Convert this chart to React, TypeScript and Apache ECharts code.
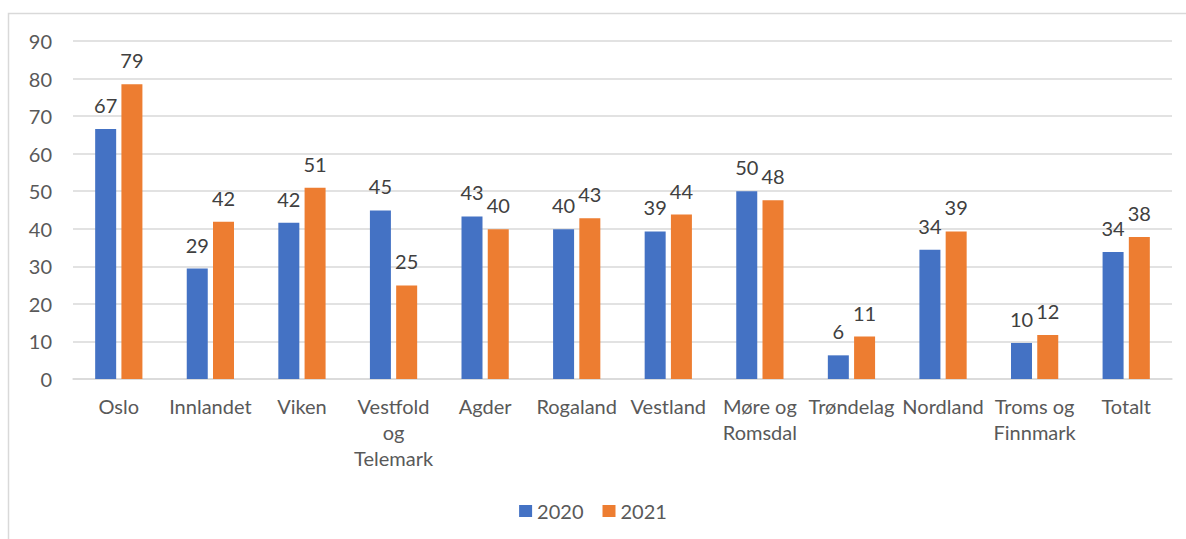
import React, { useEffect, useRef } from "react";
import * as echarts from "echarts";

const categories = [
  "Oslo",
  "Innlandet",
  "Viken",
  "Vestfold\nog\nTelemark",
  "Agder",
  "Rogaland",
  "Vestland",
  "Møre og\nRomsdal",
  "Trøndelag",
  "Nordland",
  "Troms og\nFinnmark",
  "Totalt",
];
const values2020 = [66.6, 29.4, 41.6, 44.9, 43.3, 39.9, 39.3, 50.0, 6.3, 34.4, 9.6, 33.8];
const values2021 = [78.5, 41.9, 50.9, 24.9, 39.9, 42.8, 43.8, 47.6, 11.3, 39.3, 11.7, 37.8];
const seriesNames = ["2020", "2021"];
const FONT = "Lato, 'Noto Sans', sans-serif";

export default function App() {
  const ref = useRef<HTMLDivElement>(null);
  useEffect(() => {
    document.body.style.margin = "0";
    const chart = echarts.init(ref.current!, undefined, { renderer: "svg" });
    const label = {
      show: true,
      position: "top" as const,
      distance: 14,
      color: "#404040",
      fontSize: 20,
      fontFamily: FONT,
      formatter: (p: any) => String(Math.round(p.value)),
    };
    chart.setOption({
      animation: false,
      textStyle: { fontFamily: FONT },
      graphic: [
        {
          type: "rect",
          shape: { x: 8.5, y: 13.5, width: 1300, height: 700 },
          style: { fill: "none", stroke: "#d9d9d9", lineWidth: 1.5 },
          silent: true,
        },
      ],
      legend: {
        data: seriesNames,
        left: "center",
        top: 496,
        itemWidth: 13,
        itemHeight: 12,
        itemGap: 19,
        icon: "rect",
        textStyle: { color: "#595959", fontSize: 20, fontFamily: FONT },
      },
      grid: { left: 73, right: 14, top: 41, bottom: 160, containLabel: false },
      xAxis: {
        type: "category",
        data: categories,
        axisLine: { show: true, lineStyle: { color: "#d9d9d9", width: 1.5 } },
        axisTick: { show: false },
        axisLabel: {
          color: "#595959",
          fontSize: 20,
          fontFamily: FONT,
          margin: 14,
          lineHeight: 26,
          interval: 0,
        },
      },
      yAxis: {
        type: "value",
        min: 0,
        max: 90,
        interval: 10,
        axisLine: { show: false },
        axisTick: { show: false },
        splitLine: { lineStyle: { color: "#d9d9d9", width: 1.5 } },
        axisLabel: { color: "#595959", fontSize: 20, fontFamily: FONT, margin: 21 },
      },
      series: [
        {
          name: seriesNames[0],
          type: "bar",
          data: values2020,
          barWidth: 21,
          barGap: "25%",
          itemStyle: { color: "#4472C4" },
          label,
        },
        {
          name: seriesNames[1],
          type: "bar",
          data: values2021,
          barWidth: 21,
          barGap: "25%",
          itemStyle: { color: "#ED7D31" },
          label,
        },
      ],
    });
    return () => chart.dispose();
  }, []);
  return <div ref={ref} style={{ width: 1186, height: 539 }} />;
}
